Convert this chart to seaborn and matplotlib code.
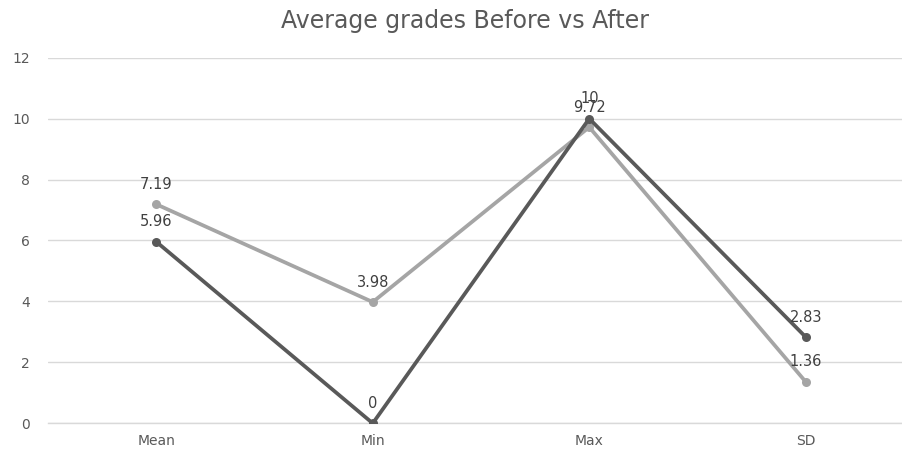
import matplotlib
matplotlib.use("Agg")
import matplotlib.pyplot as plt
import seaborn as sns
import pandas as pd
import numpy as np

# Summary statistics of the grades
categories = ["Mean", "Min", "Max", "SD"]
before = [5.96, 0, 10, 2.83]
after = [7.19, 3.98, 9.72, 1.36]
series_names = ["After", "Before"]
y_ticks = [0, 2, 4, 6, 8, 10, 12]

df = pd.DataFrame({
    "stat": categories * 2,
    "value": after + before,
    "series": [series_names[0]] * len(categories) + [series_names[1]] * len(categories),
})

sns.set_theme(style="white")
plt.rcParams["font.family"] = ["DejaVu Sans"]

fig = plt.figure(figsize=(9.02, 4.5), dpi=100)
ax = fig.add_axes([48 / 902, (450 - 423.3) / 450, (914 - 48) / 902, (423.3 - 57.7) / 450])

palette = {"After": "#A5A5A5", "Before": "#595959"}
sns.lineplot(data=df, x="stat", y="value", hue="series", palette=palette,
             hue_order=series_names, marker="o", markersize=6.5, markeredgewidth=0,
             linewidth=2.7, sort=False, legend=False, ax=ax, zorder=3)

# Value labels above each point
for vals in (after, before):
    for i, v in enumerate(vals):
        ax.annotate(f"{v:g}", (i, v), xytext=(0, 9), textcoords="offset points",
                    ha="center", va="bottom", fontsize=10.5, color="#404040", zorder=5)

ax.set_xlim(-0.5, len(categories) - 0.5)
ax.set_ylim(0, 12)
ax.set_yticks(y_ticks)
ax.set_xticks(range(len(categories)))
ax.set_xticklabels(categories)
ax.set_xticks(np.arange(-0.5, len(categories), 1.0), minor=True)
ax.set_xlabel("")
ax.set_ylabel("")

ax.grid(axis="y", color="#D9D9D9", linewidth=1)
ax.grid(axis="x", visible=False)
for side in ("left", "right", "top"):
    ax.spines[side].set_visible(False)
ax.spines["bottom"].set_color("#D9D9D9")
ax.spines["bottom"].set_linewidth(1)
ax.spines["bottom"].set_zorder(2)

ax.tick_params(axis="y", length=0, pad=13, labelsize=10, labelcolor="#595959")
ax.tick_params(axis="x", which="major", length=0, pad=8, labelsize=10, labelcolor="#595959")
ax.tick_params(axis="x", which="minor", length=5, width=1, color="#D9D9D9", direction="out")

fig.text(465 / 902, 1 - 21 / 450, "Average grades Before vs After", ha="center", va="center",
         fontsize=17, color="#595959")

fig.savefig("out.png", dpi=100, facecolor="white")
